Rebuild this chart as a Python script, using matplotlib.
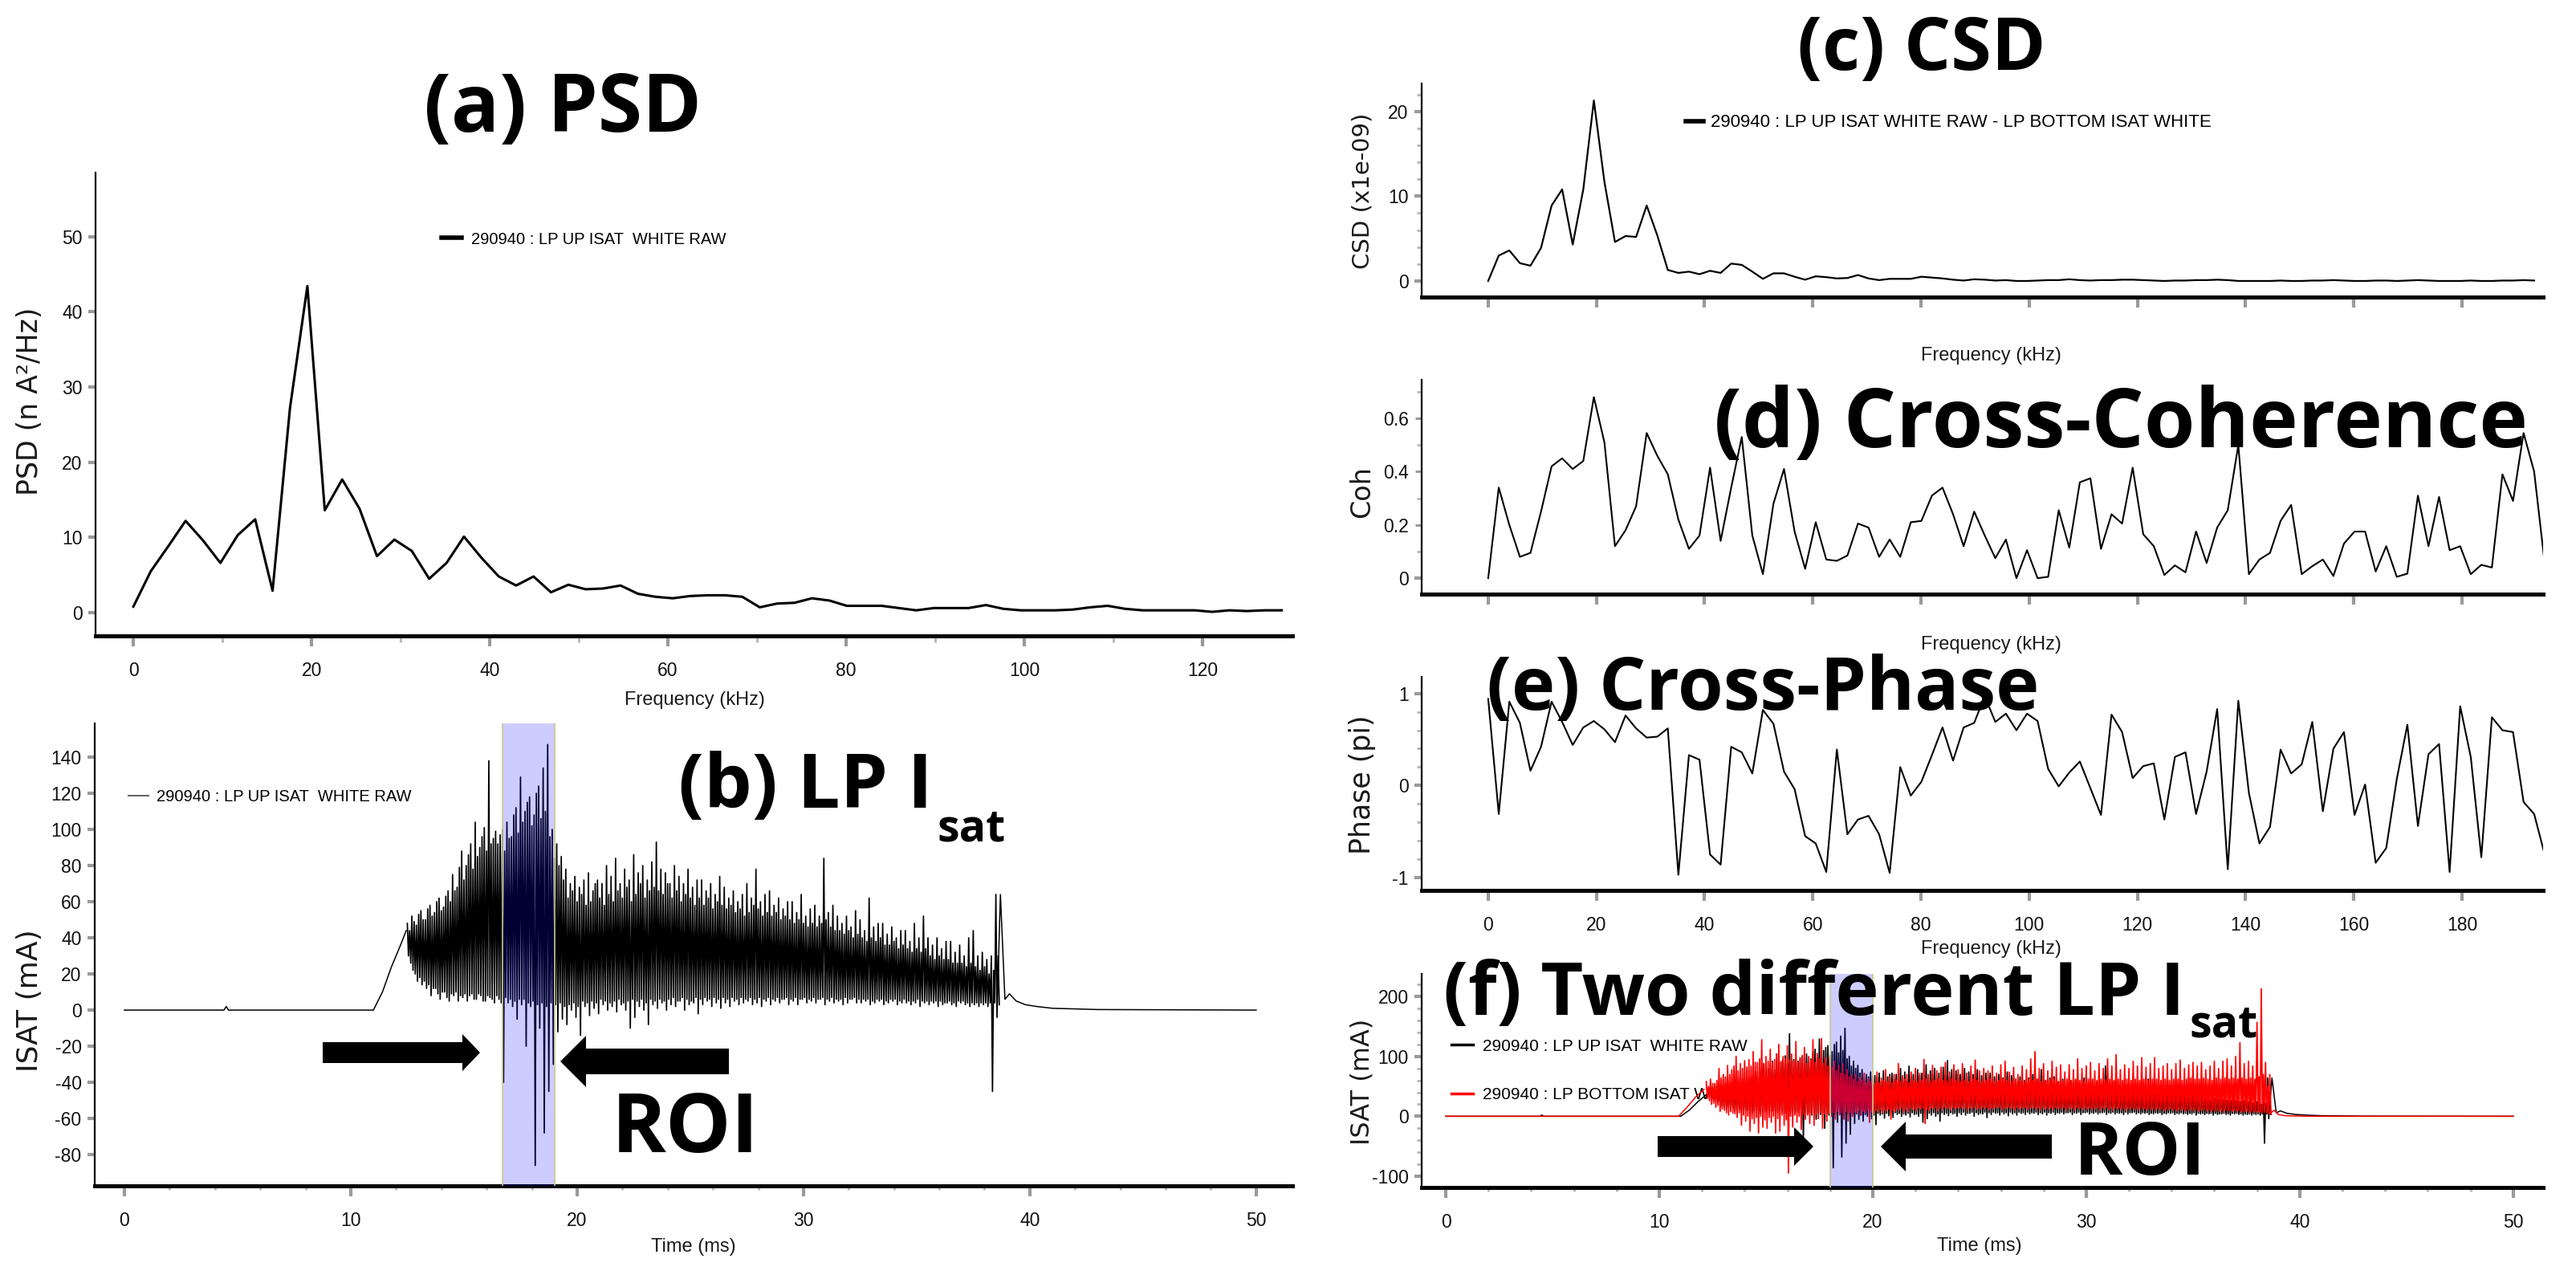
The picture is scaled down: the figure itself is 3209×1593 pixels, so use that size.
import numpy as np
import matplotlib
matplotlib.use('Agg')
import matplotlib.pyplot as plt
from matplotlib import font_manager
from matplotlib.lines import Line2D
from matplotlib.patches import FancyArrow

W, H = 3209, 1593

fonts = {f.name for f in font_manager.fontManager.ttflist}
NARROW = next(n for n in ['Liberation Sans Narrow', 'Liberation Sans', 'DejaVu Sans'] if n in fonts)
BOLD = next(n for n in ['Open Sans', 'Lato', 'DejaVu Sans'] if n in fonts)
WIDE = 'DejaVu Sans'

plt.rcParams['font.family'] = [NARROW, 'DejaVu Sans']
plt.rcParams['axes.unicode_minus'] = False

# ---------------- data ----------------
FREQ_STEP = 1.953  # kHz per FFT bin

psd = [0.8, 5.5, 8.8, 12.2, 9.6, 6.6, 10.3, 12.4, 2.9, 27.2,
       43.4, 13.6, 17.7, 13.8, 7.5, 9.7, 8.2, 4.5, 6.6, 10.1,
       7.3, 4.8, 3.6, 4.8, 2.7, 3.7, 3.1, 3.2, 3.6, 2.5,
       2.1, 1.9, 2.2, 2.3, 2.3, 2.1, 0.7, 1.2, 1.3, 1.9,
       1.6, 0.9, 0.9, 0.9, 0.6, 0.3, 0.6, 0.6, 0.6, 1.0,
       0.5, 0.3, 0.3, 0.3, 0.4, 0.7, 0.9, 0.5, 0.3, 0.3,
       0.3, 0.3, 0.1, 0.3, 0.2, 0.3, 0.3]

csd = [0.0, 3.0, 3.6, 2.1, 1.8, 3.9, 8.9, 10.8, 4.3, 10.8,
       21.3, 11.7, 4.6, 5.3, 5.2, 8.9, 5.4, 1.3, 0.95, 1.1,
       0.8, 1.2, 0.95, 2.05, 1.9, 1.1, 0.25, 0.9, 0.9, 0.5,
       0.15, 0.55, 0.45, 0.3, 0.35, 0.7, 0.3, 0.1, 0.25, 0.25,
       0.25, 0.5, 0.4, 0.3, 0.15, 0.05, 0.2, 0.15, 0.05, 0.1,
       0.0, 0.0, 0.05, 0.1, 0.1, 0.2, 0.1, 0.05, 0.1, 0.1,
       0.15, 0.15, 0.1, 0.05, 0.0, 0.05, 0.05, 0.1, 0.1, 0.15,
       0.1, 0.0, 0.0, 0.0, 0.0, 0.05, 0.0, 0.0, 0.05, 0.05,
       0.1, 0.05, 0.0, 0.0, 0.05, 0.05, 0.0, 0.05, 0.1, 0.05,
       0.0, 0.0, 0.0, 0.05, 0.0, 0.0, 0.05, 0.05, 0.1, 0.05]

coh = [0.0, 0.34, 0.2, 0.08, 0.095, 0.25, 0.42, 0.45, 0.41, 0.44,
       0.68, 0.51, 0.12, 0.18, 0.27, 0.545, 0.46, 0.39, 0.22, 0.11,
       0.16, 0.415, 0.14, 0.34, 0.53, 0.16, 0.015, 0.28, 0.41, 0.175,
       0.035, 0.21, 0.07, 0.065, 0.085, 0.205, 0.19, 0.08, 0.145, 0.08,
       0.21, 0.215, 0.31, 0.34, 0.24, 0.12, 0.25, 0.16, 0.075, 0.145,
       0.0, 0.105, 0.0, 0.005, 0.255, 0.115, 0.36, 0.375, 0.11, 0.24,
       0.205, 0.415, 0.165, 0.12, 0.012, 0.048, 0.022, 0.175, 0.057, 0.19,
       0.255, 0.5, 0.015, 0.07, 0.095, 0.215, 0.275, 0.015, 0.045, 0.07,
       0.008, 0.13, 0.175, 0.175, 0.025, 0.12, 0.005, 0.017, 0.31, 0.12,
       0.305, 0.105, 0.12, 0.015, 0.05, 0.04, 0.39, 0.29, 0.545, 0.4,
       0.055]

phase = [0.94, -0.31, 0.91, 0.68, 0.16, 0.42, 0.91, 0.69, 0.44, 0.63,
         0.70, 0.61, 0.47, 0.76, 0.62, 0.52, 0.53, 0.62, -0.97, 0.33,
         0.28, -0.75, -0.86, 0.42, 0.36, 0.13, 0.82, 0.67, 0.15, -0.04,
         -0.55, -0.63, -0.94, 0.39, -0.53, -0.37, -0.33, -0.53, -0.95, 0.2,
         -0.11, 0.04, 0.33, 0.63, 0.27, 0.63, 0.68, 0.97, 0.69, 0.78,
         0.6, 0.78, 0.7, 0.18, -0.01, 0.14, 0.26, -0.03, -0.32, 0.77,
         0.58, 0.08, 0.21, 0.24, -0.37, 0.31, 0.36, -0.31, 0.15, 0.83,
         -0.91, 0.92, -0.08, -0.63, -0.45, 0.39, 0.13, 0.23, 0.69, -0.28,
         0.4, 0.58, -0.32, 0.01, -0.84, -0.68, 0.07, 0.66, -0.44, 0.34,
         0.45, -0.94, 0.86, 0.31, -0.78, 0.74, 0.6, 0.58, -0.18, -0.31,
         -0.75]

# LP UP ISAT (black): quiet parts and alternating peak/trough samples
up_quiet_t = [0, 4.4, 4.5, 4.6, 11.0, 11.4, 11.8, 12.2, 12.45]
up_quiet_v = [0, 0, 2, 0, 0, 10, 24, 36, 44]
up_tail_t = [38.6, 38.7, 38.9, 39.1, 39.4, 39.8, 40.3, 41.0, 43.0, 50.0]
up_tail_v = [20, 64, 6, 9, 5, 3, 2, 1, 0.3, 0]
UP_T0, UP_DT = 12.5, 0.1   # sampling of the peak/trough lists (ms)
up_peak = [48, 44, 52, 49, 47, 53, 55, 50, 50, 56,
           58, 52, 54, 60, 62, 55, 57, 63, 66, 60,
           75, 66, 68, 79, 88, 72, 80, 86, 92, 78,
           104, 85, 90, 96, 101, 88, 138, 92, 95, 99,
           92, 97, 100, 88, 104, 95, 96, 108, 112, 98,
           129, 104, 110, 115, 118, 102, 108, 120, 124, 106,
           134, 110, 147, 96, 100, 84, 92, 80, 85, 72,
           78, 62, 70, 66, 74, 60, 68, 64, 72, 58,
           76, 60, 66, 70, 72, 62, 70, 58, 80, 64,
           74, 60, 84, 66, 70, 62, 78, 68, 72, 60,
           86, 64, 76, 70, 80, 62, 72, 66, 82, 68,
           93, 66, 78, 64, 76, 70, 70, 62, 80, 66,
           74, 60, 70, 64, 78, 62, 68, 58, 72, 62,
           72, 58, 66, 62, 70, 56, 64, 60, 74, 58,
           68, 56, 62, 58, 66, 54, 60, 56, 64, 52,
           70, 54, 62, 58, 78, 56, 60, 52, 64, 54,
           66, 52, 58, 54, 62, 50, 56, 52, 60, 50,
           60, 48, 54, 50, 64, 48, 52, 46, 56, 48,
           58, 46, 52, 48, 84, 50, 54, 46, 58, 44,
           52, 44, 48, 42, 52, 44, 46, 40, 55, 42,
           50, 40, 44, 38, 62, 40, 46, 38, 48, 40,
           48, 36, 42, 36, 46, 38, 40, 34, 44, 36,
           44, 34, 38, 32, 48, 34, 40, 32, 52, 34,
           40, 30, 36, 28, 40, 30, 34, 28, 38, 28,
           38, 26, 32, 26, 36, 26, 30, 24, 40, 26,
           44, 24, 30, 22, 32, 24, 28, 20, 30, 22,
           64, 30]
up_trough = [30, 26, 22, 20, 16, 18, 14, 16, 12, 14,
             8, 12, 12, 9, 6, 10, 10, 7, 5, 9,
             8, 10, 5, 8, 7, 9, 5, 8, 9, 6,
             6, 9, 8, 5, 5, 8, 7, 6, 4, 8,
             6, 4, -40, 7, 4, 6, 2, 5, -5, 6,
             3, 6, -20, 4, 2, 5, -86, 3, -10, 4,
             -68, 2, -45, 4, -30, 3, -12, 4, -5, 2,
             -8, 3, 0, 4, -4, 2, -14, 5, 2, 4,
             -3, 5, 1, 4, -2, 6, 3, 5, 0, 4,
             2, 5, -1, 6, 3, 4, 0, 5, -10, 6,
             -4, 5, 2, 6, 0, 4, -8, 6, 3, 5,
             1, 6, 4, 5, 0, 6, 3, 7, 2, 5,
             5, 7, 0, 6, 3, 5, 4, 7, -2, 6,
             3, 7, 5, 6, 2, 7, 4, 6, 1, 7,
             4, 6, 2, 7, 5, 6, 3, 7, 4, 6,
             5, 7, 3, 6, 4, 7, 2, 6, 5, 7,
             3, 6, 5, 7, 4, 6, 6, 7, 3, 6,
             5, 7, 3, 6, 6, 7, 4, 6, 5, 7,
             4, 6, 6, 7, 3, 6, 5, 7, 4, 6,
             5, 6, 3, 7, 4, 6, 6, 7, 4, 6,
             4, 6, 5, 6, 3, 5, 4, 6, 5, 6,
             3, 5, 4, 6, 5, 6, 3, 5, 4, 6,
             4, 5, 3, 5, 4, 6, 2, 5, 4, 5,
             3, 5, 4, 5, 2, 5, 3, 4, 4, 5,
             3, 4, 2, 5, 4, 5, 3, 4, 2, 4,
             3, 4, 2, 4, 3, 4, 2, 4, -45, 4,
             -4, 3]

# LP BOTTOM ISAT (red)
bot_quiet_t = [0, 10.9, 11.3, 11.7, 12.1]
bot_quiet_v = [0, 0, 15, 32, 45]
bot_tail_t = [38.6, 38.8, 39.0, 39.3, 39.8, 40.5, 50.0]
bot_tail_v = [4, 10, 3, 1, 0.5, 0, 0]
BOT_T0, BOT_DT = 12.2, 0.1
bot_peak = [58, 50, 62, 55, 55, 60, 80, 64, 70, 66,
            85, 70, 78, 84, 100, 76, 88, 80, 93, 82,
            95, 84, 108, 90, 90, 96, 128, 88, 100, 92,
            112, 90, 95, 104, 120, 92, 100, 96, 118, 94,
            104, 92, 125, 90, 98, 102, 115, 88, 100, 94,
            128, 90, 105, 96, 130, 88, 98, 84, 100, 82,
            92, 76, 85, 72, 88, 70, 78, 66, 70, 62,
            70, 58, 66, 60, 72, 56, 62, 58, 68, 55,
            74, 56, 64, 60, 78, 58, 66, 56, 70, 60,
            88, 58, 68, 62, 70, 56, 74, 60, 80, 58,
            72, 60, 95, 62, 70, 58, 85, 60, 76, 62,
            82, 60, 90, 58, 74, 62, 86, 60, 78, 58,
            88, 60, 72, 58, 84, 62, 94, 60, 76, 58,
            80, 60, 76, 62, 84, 58, 72, 60, 86, 62,
            92, 60, 74, 58, 82, 62, 70, 60, 84, 58,
            78, 62, 96, 60, 108, 62, 80, 58, 88, 60,
            76, 60, 92, 62, 82, 58, 86, 60, 74, 62,
            86, 60, 78, 62, 96, 60, 80, 58, 84, 62,
            90, 62, 76, 60, 88, 62, 80, 60, 96, 62,
            84, 60, 103, 62, 78, 60, 86, 62, 80, 60,
            92, 62, 84, 60, 98, 62, 82, 60, 88, 62,
            98, 62, 80, 60, 84, 62, 88, 60, 78, 62,
            88, 62, 94, 60, 80, 62, 86, 64, 90, 62,
            84, 62, 90, 64, 78, 62, 84, 60, 92, 64,
            80, 62, 92, 64, 96, 62, 84, 64, 100, 62,
            123, 64, 88, 62, 92, 64, 84, 62, 157, 66,
            213, 70, 90, 50, 70]
bot_trough = [30, 26, 20, 22, 15, 18, 8, 12, 10, 6,
              2, 8, 5, 4, -2, 6, -15, 2, -8, 0,
              -25, -4, -12, -2, -28, 0, -18, -6, -20, -2,
              -10, 0, -28, -4, -25, 2, -15, -6, -95, 0,
              -18, 2, -10, 0, -22, 4, -5, 2, -12, 4,
              -15, 4, -4, 6, -20, 4, -8, 6, 0, 6,
              -5, 8, 2, 6, -5, 8, -8, 6, 0, 8,
              5, 10, 2, 8, 6, 10, -10, 8, 4, 10,
              8, 12, 5, 10, 9, 12, -5, 10, 8, 12,
              10, 14, 6, 12, 8, 14, 11, 12, 9, 14,
              12, 14, -12, 12, 10, 14, 12, 15, 9, 14,
              11, 15, 13, 14, 10, 15, 12, 14, 14, 15,
              12, 15, 10, 14, 13, 15, 11, 14, 12, 15,
              13, 15, 11, 14, 12, 15, 14, 15, 11, 14,
              12, 15, 13, 14, 10, 15, 12, 14, 13, 15,
              11, 14, 13, 15, 12, 14, 10, 15, 12, 14,
              12, 14, 11, 15, 13, 14, 12, 15, 10, 14,
              12, 14, 10, 15, 13, 14, 11, 15, 12, 14,
              11, 14, 12, 15, 10, 14, 12, 15, 11, 14,
              10, 14, 12, 14, 11, 14, 9, 13, 12, 14,
              11, 13, 10, 14, 12, 13, 10, 14, 11, 13,
              10, 13, 11, 13, 9, 12, 11, 13, 10, 12,
              9, 12, 10, 12, 8, 12, 10, 12, 9, 12,
              8, 11, 10, 12, 9, 11, 7, 11, 9, 11,
              8, 10, 7, 11, 9, 10, 8, 10, 7, 10,
              7, 9, 8, 9, 6, 9, 7, 8, 6, 8,
              5, 7, 6, 5, 4]

roi_b = (16.7, 19.0)
roi_f = (18.0, 20.0)
leg_up = '290940 : LP UP ISAT  WHITE RAW'
leg_bot = '290940 : LP BOTTOM ISAT WHITE'

# ---------------- figure ----------------
fig = plt.figure(figsize=(W / 100, H / 100), dpi=100)


def px_axes(l, t, r, b):
    return fig.add_axes([l / W, 1 - b / H, (r - l) / W, (b - t) / H])


def dress(ax, xt, xm, yt, ym, xlabels=True, yfmt=None, xminor_len=5.8):
    for s in ('top', 'right'):
        ax.spines[s].set_visible(False)
    ax.spines['left'].set_linewidth(1.6)
    ax.spines['bottom'].set_linewidth(3.6)
    ax.set_xticks(xt)
    ax.set_xticks(xm, minor=True)
    if yfmt:
        ax.set_yticks(yt, labels=yfmt)
    else:
        ax.set_yticks(yt)
    ax.set_yticks(ym, minor=True)
    ax.tick_params(which='major', length=5.8, width=2.2, color='#9a9a9a',
                   labelsize=16.5, labelcolor='#111111')
    ax.tick_params(axis='x', which='major', pad=17)
    ax.tick_params(axis='y', which='major', pad=6)
    ax.tick_params(axis='x', which='minor', length=xminor_len, width=2.0, color='#b5b5b5')
    ax.tick_params(axis='y', which='minor', length=4.5, width=2.0, color='#b5b5b5')
    if not xlabels:
        ax.tick_params(axis='x', labelbottom=False)
    for axis, ln in ((ax.xaxis, 9.5), (ax.yaxis, 6.5)):
        for tk in axis.get_major_ticks():
            if abs(tk.get_loc()) < 1e-9:
                tk.tick1line.set_color('black')
                tk.tick1line.set_markersize(ln)
                tk.tick1line.set_markeredgewidth(3)


def draw_trace(ax, qt, qv, tt, tv, t0, dt, peaks, troughs, color, z):
    ax.plot(qt, qv, color=color, lw=1.1, zorder=z)
    ax.plot(tt, tv, color=color, lw=1.1, zorder=z)
    # alternate peak / trough samples to rebuild the noisy signal
    ts = t0 + dt * np.arange(len(peaks))
    zt = np.column_stack([ts, ts + dt / 2]).ravel()
    zv = np.column_stack([peaks, troughs]).ravel()
    ax.plot(zt, zv, color=color, lw=1.25, zorder=z)


def shade_roi(ax, roi):
    ax.axvspan(roi[0], roi[1], facecolor='blue', alpha=0.2, lw=0, zorder=5)
    for x in roi:
        ax.axvline(x, color='#c8c890', lw=1.2, zorder=6)


# (a) PSD
ax_a = px_axes(119, 215, 1610, 792)
ax_a.plot(np.arange(len(psd)) * FREQ_STEP, psd, color='black', lw=2.2)
ax_a.set_xlim(-4.25, 130.1)
ax_a.set_ylim(-3.1, 58.5)
dress(ax_a, range(0, 130, 20), range(10, 130, 20), range(0, 60, 10), [])
ax_a.legend(handles=[Line2D([], [], color='black', lw=4)], labels=[leg_up],
            loc='center left', bbox_to_anchor=((550 - 119) / 1491, (792 - 298) / 577),
            frameon=False, borderpad=0, borderaxespad=0, handlelength=1.25,
            handletextpad=0.6, prop={'family': NARROW, 'size': 14.5})

# (b) LP Isat
ax_b = px_axes(118, 901, 1610, 1477)
draw_trace(ax_b, up_quiet_t, up_quiet_v, up_tail_t, up_tail_v,
           UP_T0, UP_DT, up_peak, up_trough, 'black', 2)
shade_roi(ax_b, roi_b)
ax_b.set_xlim(-1.31, 51.6)
ax_b.set_ylim(-97.3, 158.7)
dress(ax_b, range(0, 51, 10), [t for t in range(2, 51, 2) if t % 10], range(-80, 141, 20), [],
      xminor_len=3.5)
ax_b.legend(handles=[Line2D([], [], color='#666666', lw=1.5)], labels=[leg_up],
            loc='center left', bbox_to_anchor=((160 - 118) / 1492, (1477 - 993) / 576),
            frameon=False, borderpad=0, borderaxespad=0, handlelength=1.25,
            handletextpad=0.5, prop={'family': NARROW, 'size': 14.5})

# right column
fx = (-12.3, 195)
ax_c = px_axes(1771, 104, 3168, 370)
ax_c.plot(np.arange(len(csd)) * FREQ_STEP, csd, color='black', lw=1.6)
ax_c.set_xlim(*fx)
ax_c.set_ylim(-1.9, 23.3)
dress(ax_c, range(0, 181, 20), [], [0, 10, 20], [v for v in range(2, 23, 2) if v % 10],
      xlabels=False)
ax_c.legend(handles=[Line2D([], [], color='black', lw=4)],
            labels=['290940 : LP UP ISAT WHITE RAW - LP BOTTOM ISAT WHITE'],
            loc='center left', bbox_to_anchor=((2100 - 1771) / 1397, (370 - 153) / 266),
            frameon=False, borderpad=0, borderaxespad=0, handlelength=1.0,
            handletextpad=0.4, prop={'family': NARROW, 'size': 16})

ax_d = px_axes(1771, 473, 3168, 740)
ax_d.plot(np.arange(len(coh)) * FREQ_STEP, coh, color='black', lw=1.5)
ax_d.set_xlim(*fx)
ax_d.set_ylim(-0.06, 0.745)
dress(ax_d, range(0, 181, 20), [], [0, 0.2, 0.4, 0.6], [0.1, 0.3, 0.5, 0.7],
      xlabels=False, yfmt=['0', '0.2', '0.4', '0.6'])

ax_e = px_axes(1771, 843, 3168, 1109)
ax_e.plot(np.arange(len(phase)) * FREQ_STEP, phase, color='black', lw=1.5)
ax_e.set_xlim(*fx)
ax_e.set_ylim(-1.14, 1.18)
dress(ax_e, range(0, 181, 20), [], [-1, 0, 1], [-0.8, -0.6, -0.4, -0.2, 0.2, 0.4, 0.6, 0.8])

ax_f = px_axes(1771, 1213, 3168, 1479)
draw_trace(ax_f, up_quiet_t, up_quiet_v, up_tail_t, up_tail_v,
           UP_T0, UP_DT, up_peak, up_trough, 'black', 2)
draw_trace(ax_f, bot_quiet_t, bot_quiet_v, bot_tail_t, bot_tail_v,
           BOT_T0, BOT_DT, bot_peak, bot_trough, 'red', 3)
shade_roi(ax_f, roi_f)
ax_f.set_xlim(-1.13, 51.4)
ax_f.set_ylim(-119, 238)
dress(ax_f, range(0, 51, 10), [t for t in range(2, 51, 2) if t % 10], [-100, 0, 100, 200],
      [v for v in range(-100, 221, 20) if v % 100], xminor_len=3.5)
leg = ax_f.legend(handles=[Line2D([], [], color='black', lw=2.5), Line2D([], [], color='red', lw=2.5)],
                  labels=[leg_up, leg_bot], loc='upper left',
                  bbox_to_anchor=((1808 - 1771) / 1397, 0.697), frameon=False, borderpad=0,
                  borderaxespad=0, handlelength=1.3, handletextpad=0.55, labelspacing=2.0,
                  prop={'family': NARROW, 'size': 15})
leg.set_zorder(1)

# ---------------- overlay in pixel coordinates ----------------
ov = fig.add_axes([0, 0, 1, 1], zorder=20)
ov.set_xlim(0, W)
ov.set_ylim(H, 0)
ov.axis('off')
ov.patch.set_alpha(0)

# axis titles
lab = dict(color='#1a1a1a', ha='center', va='center')
ov.text(37, 500, 'PSD (n A\u00b2/Hz)', rotation=90, family=WIDE, fontsize=25, **lab)
ov.text(37, 1246, 'ISAT (mA)', rotation=90, family=WIDE, fontsize=26, **lab)
ov.text(1697, 238, 'CSD (x1e-09)', rotation=90, family=WIDE, fontsize=21, **lab)
ov.text(1697, 613, 'Coh', rotation=90, family=WIDE, fontsize=24, **lab)
ov.text(1697, 977, 'Phase (pi)', rotation=90, family=WIDE, fontsize=25, **lab)
ov.text(1697, 1347, 'ISAT (mA)', rotation=90, family=WIDE, fontsize=23, **lab)
for x, y, s in [(865, 872, 'Frequency (kHz)'), (864, 1553, 'Time (ms)'),
                (2480, 443, 'Frequency (kHz)'), (2480, 803, 'Frequency (kHz)'),
                (2480, 1182, 'Frequency (kHz)'), (2466, 1552, 'Time (ms)')]:
    ov.text(x, y, s, family=NARROW, fontsize=17, **lab)

# big annotations
big = dict(family=BOLD, fontweight='bold', color='black', ha='left', va='baseline')
ov.text(528, 164, '(a) PSD', fontsize=72, **big)
tb = ov.text(845, 1006, '(b) LP I', fontsize=68, **big)
ov.text(2239, 87, '(c) CSD', fontsize=66, **big)
ov.text(2135, 557, '(d) Cross-Coherence', fontsize=74, **big)
ov.text(1852, 884, '(e) Cross-Phase', fontsize=66, **big)
tf = ov.text(1798, 1264, '(f) Two different LP I', fontsize=66, **big)
ov.text(762, 1435, 'ROI', fontsize=74, **big)
ov.text(2584, 1463, 'ROI', fontsize=66, **big)

fig.canvas.draw()
rend = fig.canvas.get_renderer()
for t, base in ((tb, 1047), (tf, 1292)):
    bb = t.get_window_extent(rend)
    ov.text(bb.x1 + 6, base, 'sat', fontsize=40, **big)

# arrows pointing at the ROI
for x, y, dx, w, hw, hl in [(402, 1311, 196, 26, 46, 22), (908, 1322, -210, 32, 64, 32),
                            (2065, 1428, 194, 26, 48, 24), (2556, 1428, -213, 30, 62, 31)]:
    ov.add_patch(FancyArrow(x, y, dx, 0, width=w, head_width=hw, head_length=hl,
                            length_includes_head=True, color='black', lw=0))

fig.savefig('out.png', dpi=100)
